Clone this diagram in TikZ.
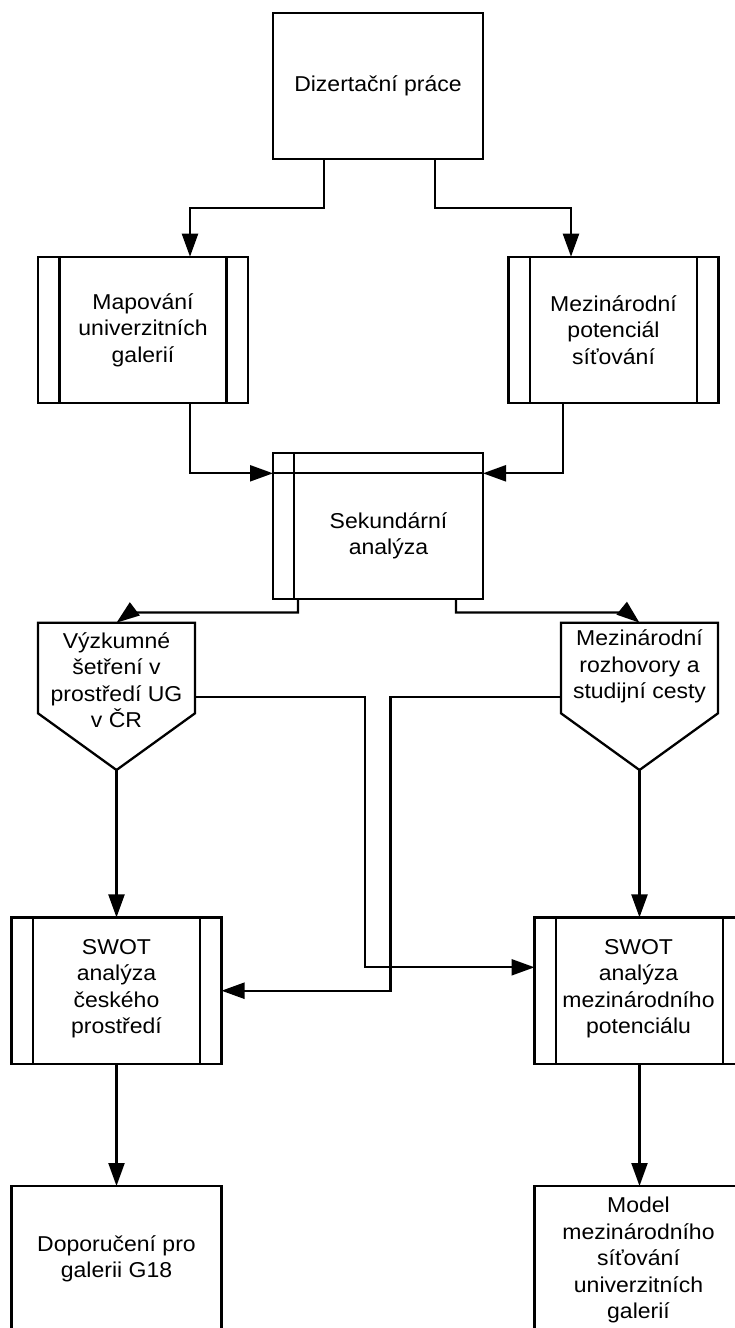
\documentclass[tikz,border=0pt]{standalone}
\usepackage{fontspec}
\setmainfont{Liberation Sans}[FakeStretch=1.07]
\usetikzlibrary{arrows.meta}
\begin{document}
\begin{tikzpicture}[x=1pt,y=-1pt,
  box/.style={draw, line width=2.3pt, minimum width=210pt, minimum height=146.6pt, inner sep=0pt, outer sep=0pt},
  ghost/.style={minimum width=157pt, minimum height=90.6pt, inner sep=0pt, outer sep=0pt},
  lbl/.style={align=center, font=\fontsize{21.5}{26.5}\selectfont, inner sep=0pt},
  edge/.style={line width=2.3pt},
  conn/.style={line width=2.3pt, -{Triangle[length=23pt,width=16pt]}},
  ]
\useasboundingbox (0,0) rectangle (735,1328);
\fill[white] (0,0) rectangle (735,1328);
\clip (0,0) rectangle (735,1328);

% boxes
\node[box] (diz) at (378,86) {};
\node[box] (map) at (143,330) {};
\node[box] (mez) at (613.5,330) {};
\node[box] (sek) at (378,526) {};
\node[ghost] (vyz) at (116.5,668) {};
\node[ghost] (roz) at (639.5,668) {};
\node[box] (swotL) at (116.5,990.7) {};
\node[box] (swotR) at (639.5,990.7) {};
\node[box] (dop) at (116.5,1259.3) {};
\node[box] (model) at (639.5,1259.3) {};

% predefined-process bars
\foreach \n in {map,mez,swotL,swotR}{
  \draw[edge] ([xshift=21.5pt]\n.north west) -- ([xshift=21.5pt]\n.south west);
  \draw[edge] ([xshift=-21.5pt]\n.north east) -- ([xshift=-21.5pt]\n.south east);
}
% internal storage bars
\draw[edge] ([yshift=-20pt]sek.north west) -- ([yshift=-20pt]sek.north east);
\draw[edge] ([xshift=21pt]sek.north west) -- ([xshift=21pt]sek.south west);

% off-page connectors
\coordinate (vyztip) at ([yshift=-56.7pt]vyz.south);
\coordinate (roztip) at ([yshift=-56.7pt]roz.south);
\draw[edge, line join=miter] (vyz.north west) -- (vyz.north east) -- (vyz.south east) -- (vyztip) -- (vyz.south west) -- cycle;
\draw[edge, line join=miter] (roz.north west) -- (roz.north east) -- (roz.south east) -- (roztip) -- (roz.south west) -- cycle;

% texts
\node[lbl] (dizt) at (diz.center) {Dizertační práce};
\node[lbl] (mapt) at (map.center) {Mapování\\univerzitních\\galerií};
\node[lbl] (mezt) at (mez.center) {Mezinárodní\\potenciál\\síťování};
\node[lbl] (sekt) at (388.5,536) {Sekundární\\analýza};
\node[lbl] (vyzt) at (116.5,680) {Výzkumné\\šetření v\\prostředí UG\\v ČR};
\node[lbl] (rozt) at (639.5,666.7) {Mezinárodní\\rozhovory a\\studijní cesty};
\node[lbl] (swotLt) at (116.5,988.5) {SWOT\\analýza\\českého\\prostředí};
\node[lbl] (swotRt) at (638.5,988.5) {SWOT\\analýza\\mezinárodního\\potenciálu};
\node[lbl] (dopt) at (116.5,1258.7) {Doporučení pro\\galerii G18};
\node[lbl] (modelt) at (638.5,1260) {Model\\mezinárodního\\síťování\\univerzitních\\galerií};

% connectors
\draw[conn] ([xshift=-54pt]diz.south) -- ++(0,49) -| ([xshift=47pt]map.north);
\draw[conn] ([xshift=57pt]diz.south) -- ++(0,49) -| ([xshift=-42.5pt]mez.north);
\draw[conn] ([xshift=47pt]map.south) |- ([yshift=-20.6pt]sek.north west);
\draw[conn] ([xshift=-50.5pt]mez.south) |- ([yshift=-20.6pt]sek.north east);
\draw[conn] ([xshift=-80pt]sek.south) |- ([xshift=13.5pt,yshift=10.2pt]vyz.north) -- (vyz.north);
\draw[conn] ([xshift=78pt]sek.south) |- ([xshift=-12.5pt,yshift=10.2pt]roz.north) -- (roz.north);
\coordinate (vx1) at (365,967.3);
\coordinate (vx2) at (390.5,990.7);
\draw[conn] ([yshift=-28.7pt]vyz.east) -| (vx1) -- ([yshift=23.4pt]swotR.west);
\draw[conn] ([yshift=-28.7pt]roz.west) -| (vx2) -- (swotL.east);
\draw[conn] (vyztip) -- (swotL.north);
\draw[conn] (roztip) -- (swotR.north);
\draw[conn] (swotL.south) -- (dop.north);
\draw[conn] (swotR.south) -- (model.north);
\end{tikzpicture}
\end{document}
